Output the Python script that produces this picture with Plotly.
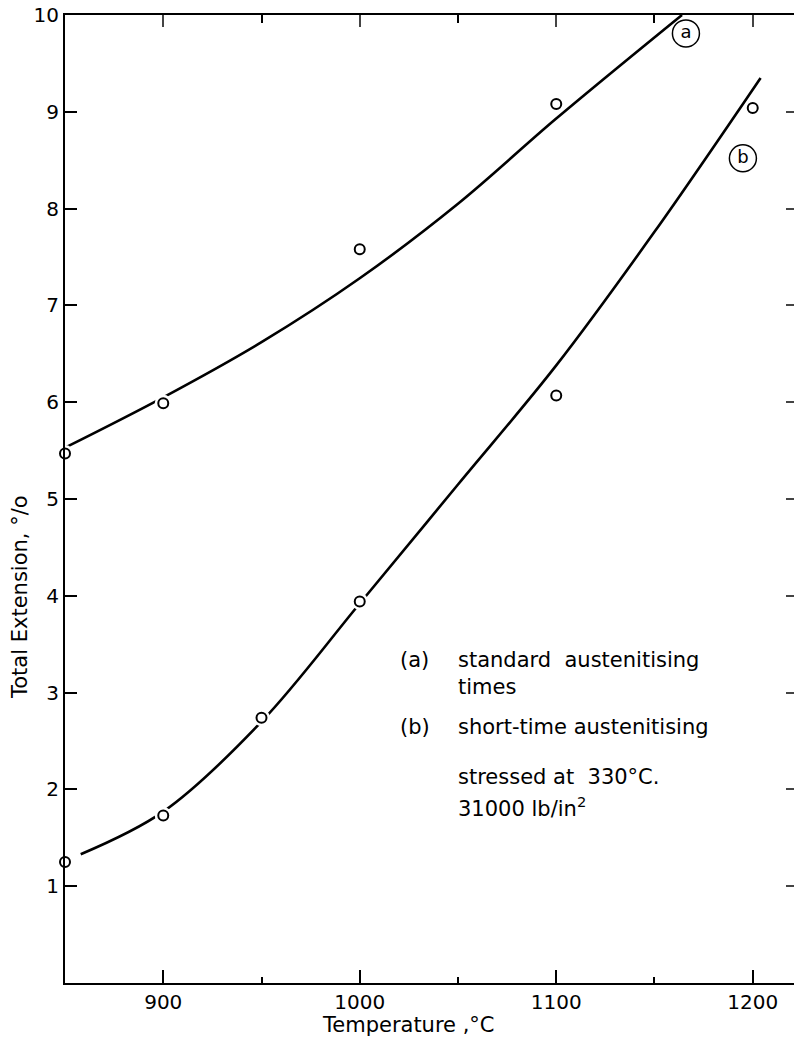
import plotly.graph_objects as go

# Measured points: total extension (%) against austenitising temperature (°C)
temp_a = [850, 900, 1000, 1100]
ext_a = [5.47, 5.99, 7.58, 9.08]
temp_b = [850, 900, 950, 1000, 1100, 1200]
ext_b = [1.25, 1.73, 2.74, 3.94, 6.07, 9.04]

# Hand-fitted curves through the points (knots of the smooth lines)
curve_a_x = [850, 900, 950, 1000, 1050, 1100, 1164]
curve_a_y = [5.53, 6.05, 6.62, 7.28, 8.05, 8.93, 10.0]
curve_b_x = [858, 900, 950, 1000, 1050, 1100, 1150, 1204]
curve_b_y = [1.33, 1.77, 2.70, 3.92, 5.15, 6.38, 7.76, 9.35]

# Circled curve tags
tag_text = ["a", "b"]
tag_x = [1166, 1195]
tag_y = [9.81, 8.52]

x_ticks = [900, 1000, 1100, 1200]
x_minor = [950, 1050, 1150]
y_ticks = [1, 2, 3, 4, 5, 6, 7, 8, 9, 10]
x_range = [850, 1221]
y_range = [0, 10]

FONT = "DejaVu Sans"
INK = "black"

fig = go.Figure()

for cx, cy in [(curve_a_x, curve_a_y), (curve_b_x, curve_b_y)]:
    fig.add_trace(go.Scatter(x=cx, y=cy, mode="lines",
                             line=dict(color=INK, width=2.6, shape="spline", smoothing=1.0),
                             hoverinfo="skip", showlegend=False))

# white halo so the curves break around each open circle
for tx, ty in [(temp_a, ext_a), (temp_b, ext_b)]:
    fig.add_trace(go.Scatter(x=tx, y=ty, mode="markers",
                             marker=dict(size=17, color="white", line=dict(width=0)),
                             hoverinfo="skip", showlegend=False, cliponaxis=False))
    fig.add_trace(go.Scatter(x=tx, y=ty, mode="markers",
                             marker=dict(size=10, color="white", line=dict(color=INK, width=2)),
                             showlegend=False, cliponaxis=False))

fig.add_trace(go.Scatter(x=tag_x, y=tag_y, mode="markers+text", text=tag_text,
                         textposition="middle center",
                         textfont=dict(family=FONT, size=18, color=INK),
                         marker=dict(size=27, color="rgba(0,0,0,0)", line=dict(color=INK, width=1.5)),
                         showlegend=False, cliponaxis=False))

# empty trace so the mirrored top/right axes get drawn
fig.add_trace(go.Scatter(x=[], y=[], xaxis="x2", yaxis="y2", showlegend=False))

axis_common = dict(showgrid=False, zeroline=False, color=INK,
                   tickfont=dict(family=FONT, size=20, color=INK))

fig.update_layout(
    width=794, height=1041,
    margin=dict(l=65, r=0, t=15, b=58),
    paper_bgcolor="white", plot_bgcolor="white",
    font=dict(family=FONT, color=INK),
    xaxis=dict(range=x_range, tickvals=x_ticks, ticks="inside", ticklen=13, tickwidth=1.5,
               showline=True, linewidth=2, linecolor=INK,
               minor=dict(tickvals=x_minor, ticks="inside", ticklen=6, tickwidth=1.5, tickcolor=INK),
               **axis_common),
    yaxis=dict(range=y_range, tickvals=y_ticks, ticks="inside", ticklen=12, tickwidth=2,
               showline=True, linewidth=2, linecolor=INK, **axis_common),
    xaxis2=dict(range=x_range, overlaying="x", side="top", anchor="y",
                tickvals=x_ticks, ticks="inside", ticklen=12, tickwidth=1.5,
                showline=True, linewidth=2, linecolor=INK, showticklabels=False,
                minor=dict(tickvals=x_minor, ticks="inside", ticklen=8, tickwidth=1.5, tickcolor=INK),
                showgrid=False, zeroline=False),
    yaxis2=dict(range=y_range, overlaying="y", side="right", anchor="x",
                tickvals=y_ticks[:-1], ticks="inside", ticklen=8, tickwidth=2,
                showline=False, showticklabels=False, showgrid=False, zeroline=False),
)

# axis titles
fig.add_annotation(text="Temperature ,°C", xref="paper", yref="paper",
                   x=(408 - 65) / 729, y=-(1025 - 983) / 968, showarrow=False,
                   font=dict(family=FONT, size=21, color=INK), xanchor="center", yanchor="middle")
fig.add_annotation(text="Total Extension, °/o", xref="paper", yref="paper",
                   x=-(65 - 20) / 729, y=(983 - 597) / 968, showarrow=False, textangle=-90,
                   font=dict(family=FONT, size=21, color=INK), xanchor="center", yanchor="middle")

# key text
key_font = dict(family=FONT, size=21, color=INK)
key_rows = [
    (1019.4, 3.34, "(a)"), (1048.9, 3.34, "standard  austenitising"),
    (1048.9, 3.06, "times"),
    (1019.4, 2.64, "(b)"), (1048.9, 2.64, "short-time austenitising"),
    (1048.9, 2.13, "stressed at  330°C."),
    (1048.9, 1.82, "31000 lb/in<sup>2</sup>"),
]
for kx, ky, kt in key_rows:
    fig.add_annotation(text=kt, x=kx, y=ky, xref="x", yref="y", showarrow=False,
                       xanchor="left", yanchor="middle", font=key_font)

fig.write_html("out.html")
